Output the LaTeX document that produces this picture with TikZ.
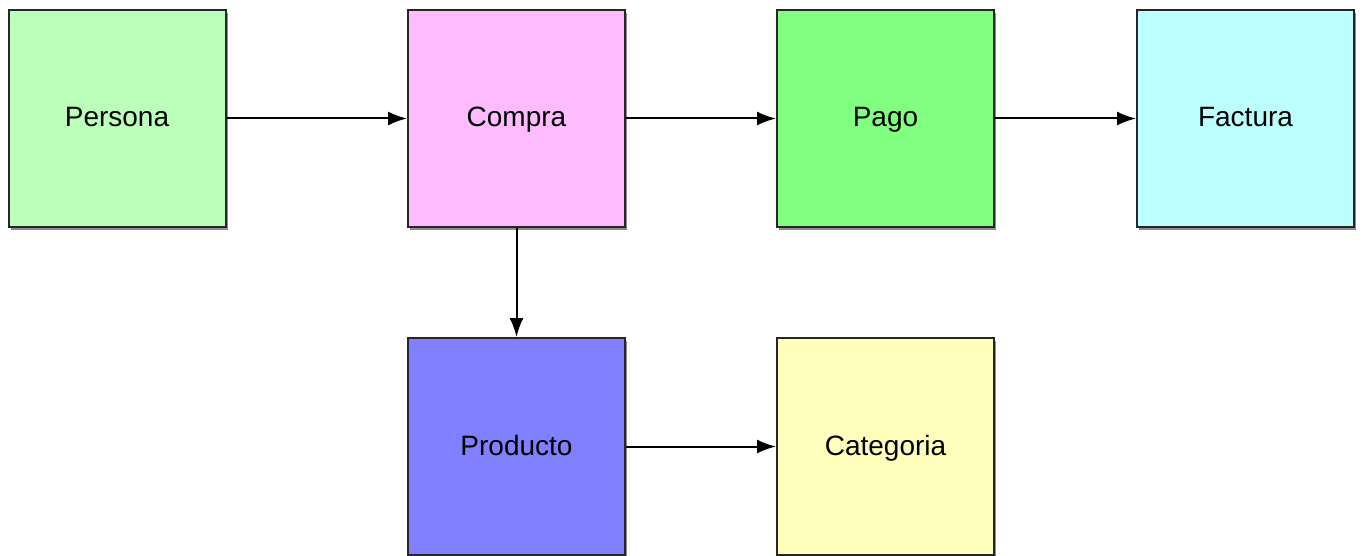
\documentclass[tikz,border=0pt]{standalone}
\usepackage{fontspec}
\setmainfont{Liberation Sans}
\usetikzlibrary{arrows.meta,shadows}
\definecolor{cpersona}{HTML}{BBFFBB}
\definecolor{ccompra}{HTML}{FFBBFF}
\definecolor{cpago}{HTML}{80FF80}
\definecolor{cfactura}{HTML}{BBFFFF}
\definecolor{cproducto}{HTML}{8080FF}
\definecolor{ccategoria}{HTML}{FFFFBB}
\tikzset{
  entity/.style={draw=black!85, line width=2pt, minimum width=217pt, minimum height=217pt,
    inner sep=0pt, font=\fontsize{28}{32}\selectfont, text height=21pt, text depth=4pt,
    drop shadow={shadow xshift=2pt, shadow yshift=-3pt, opacity=0.6, fill=black!75}},
  link/.style={line width=2pt, -{Latex[length=19pt,width=14pt]}}
}
\begin{document}
\begin{tikzpicture}[x=1pt,y=-1pt]
\useasboundingbox (0,0) rectangle (1362,556);
\node[entity, fill=cpersona]   (persona)   at (117,118.5) {Persona};
\node[entity, fill=ccompra]    (compra)    at (516.5,118.5) {Compra};
\node[entity, fill=cpago]      (pago)      at (885.5,118.5) {Pago};
\node[entity, fill=cfactura]   (factura)   at (1245.5,118.5) {Factura};
\node[entity, fill=cproducto]  (producto)  at (516.5,446.5) {Producto};
\node[entity, fill=ccategoria] (categoria) at (885.5,446.5) {Categoria};
\draw[link] (persona) -- (compra);
\draw[link] (compra) -- (pago);
\draw[link] (pago) -- (factura);
\draw[link] (compra) -- (producto);
\draw[link] (producto) -- (categoria);
\end{tikzpicture}
\end{document}
